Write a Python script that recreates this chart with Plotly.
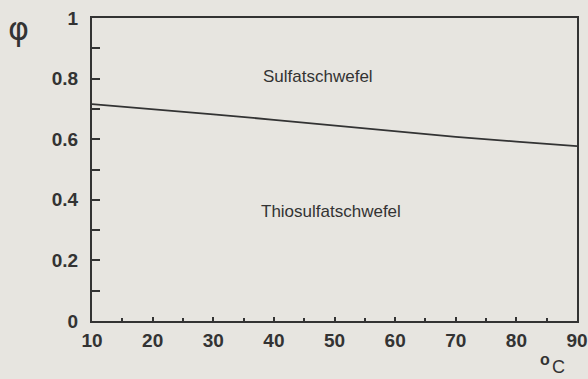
import plotly.graph_objects as go

# Temperature (°C) and sulfate-sulfur fraction φ
temperature = [10, 20, 30, 40, 50, 60, 70, 80, 90]
phi_sulfate = [0.716, 0.700, 0.682, 0.664, 0.645, 0.625, 0.608, 0.592, 0.577]

x_ticks = [10, 20, 30, 40, 50, 60, 70, 80, 90]
y_ticks = [0, 0.2, 0.4, 0.6, 0.8, 1]
y_tick_labels = ["0", "0.2", "0.4", "0.6", "0.8", "1"]

ink = "#333333"
paper = "#e7e5e0"
sans = "Liberation Sans, Arial, sans-serif"
tick_font = dict(family=sans, size=19, color=ink, weight="bold")

fig = go.Figure()
fig.add_trace(go.Scatter(
    x=temperature, y=phi_sulfate, mode="lines",
    line=dict(color=ink, width=1.8), showlegend=False, hoverinfo="skip",
))

fig.add_annotation(x=47.3, y=0.806, text="Sulfatschwefel", showarrow=False,
                   font=dict(family=sans, size=17, color=ink))
fig.add_annotation(x=49.5, y=0.36, text="Thiosulfatschwefel", showarrow=False,
                   font=dict(family=sans, size=17, color=ink))

# axis symbols
fig.add_annotation(xref="paper", yref="paper", x=-0.152, y=0.965, text="φ", showarrow=False,
                   xanchor="center", yanchor="middle",
                   font=dict(family="DejaVu Sans, sans-serif", size=32, color=ink))
fig.add_annotation(xref="paper", yref="paper", x=0.934, y=-0.128, text="o", showarrow=False,
                   xanchor="center", yanchor="middle",
                   font=dict(family=sans, size=16, color=ink, weight="bold"))
fig.add_annotation(xref="paper", yref="paper", x=0.961, y=-0.152, text="C", showarrow=False,
                   xanchor="center", yanchor="middle",
                   font=dict(family=sans, size=18, color=ink))

fig.update_xaxes(
    range=[10, 90], tickvals=x_ticks, ticks="inside", ticklen=4, tickwidth=1.5,
    tickcolor=ink, showline=True, linecolor=ink, linewidth=2, mirror=True,
    showgrid=False, zeroline=False, tickfont=tick_font, ticklabelstandoff=1,
    automargin=False,
    minor=dict(dtick=5, tick0=0, ticks="inside", ticklen=3, tickwidth=1.5, tickcolor=ink, showgrid=False),
)
fig.update_yaxes(
    range=[0, 1], tickvals=y_ticks, ticktext=y_tick_labels, ticks="inside", ticklen=8,
    tickwidth=1.5, tickcolor=ink, showline=True, linecolor=ink, linewidth=2, mirror=True,
    showgrid=False, zeroline=False, tickfont=tick_font, ticklabelstandoff=8,
    automargin=False,
    minor=dict(dtick=0.1, tick0=0, ticks="inside", ticklen=8, tickwidth=1.5, tickcolor=ink, showgrid=False),
)

fig.update_layout(
    width=588, height=379,
    margin=dict(l=92, r=11, t=18, b=58),
    paper_bgcolor=paper, plot_bgcolor=paper,
)

fig.write_html("out.html")
